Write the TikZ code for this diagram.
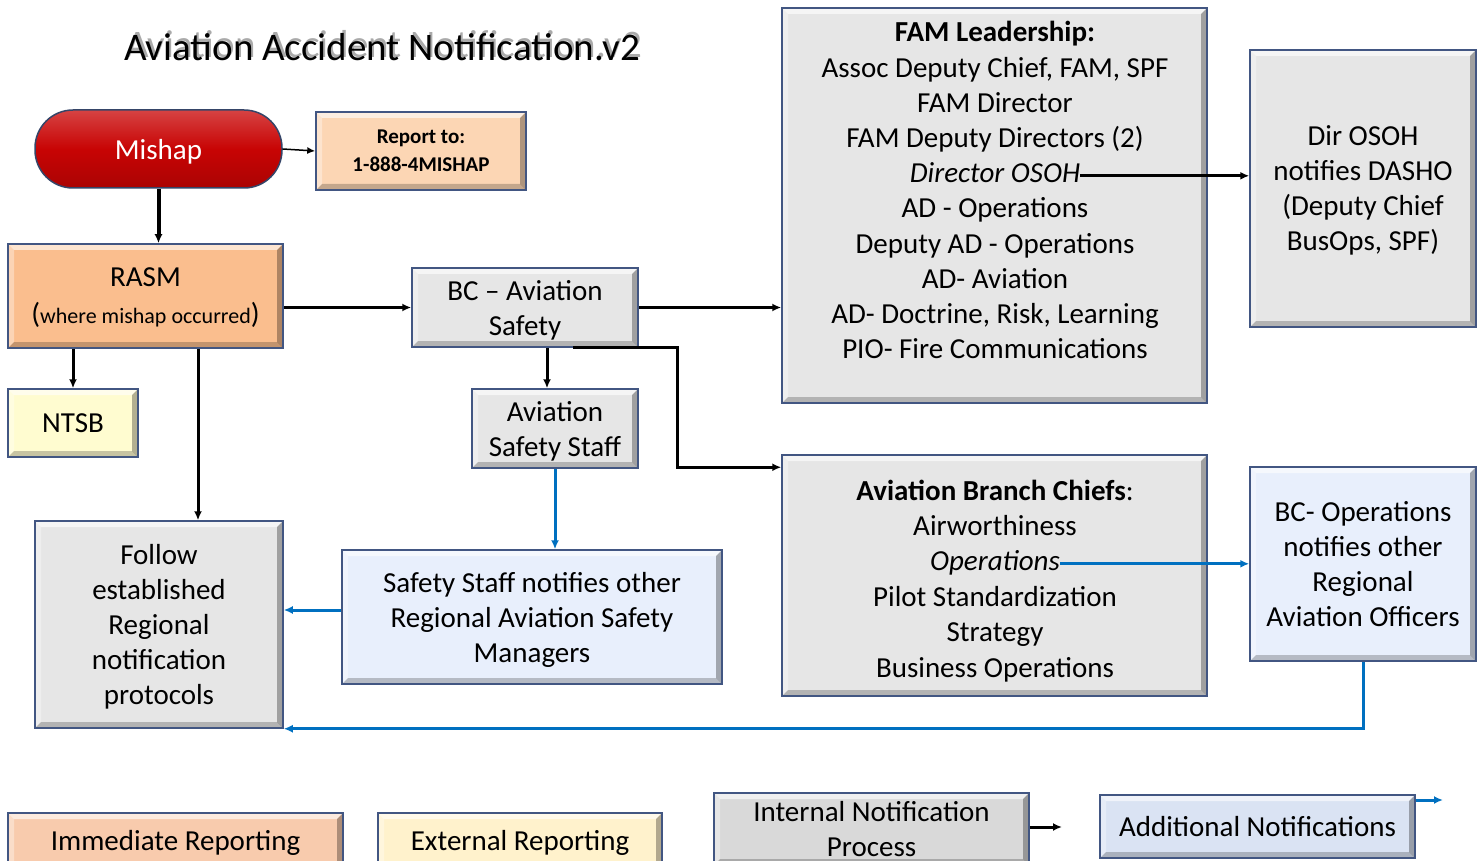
\documentclass[tikz,border=0pt]{standalone}
\usepackage{fontspec}
\setmainfont{Carlito}
\usepackage{tikz}
\usetikzlibrary{arrows.meta}
\usetikzlibrary{calc}
\definecolor{boxedge}{RGB}{66,86,130}
\definecolor{boxgray}{RGB}{230,230,230}
\definecolor{mishapred}{RGB}{200,4,4}
\definecolor{reportfill}{RGB}{252,214,180}
\definecolor{rasmfill}{RGB}{250,190,142}
\definecolor{ntsbfill}{RGB}{255,252,208}
\definecolor{notifyblue}{RGB}{232,239,252}
\definecolor{flowblue}{RGB}{0,112,192}
\definecolor{titleghost}{RGB}{170,170,170}
\definecolor{legorange}{RGB}{248,203,173}
\definecolor{legyellow}{RGB}{255,242,204}
\definecolor{leggray}{RGB}{217,217,217}
\definecolor{legblue}{RGB}{218,227,243}

\begin{document}
\begin{tikzpicture}[
    x=1pt, y=-1pt,
    >={Latex[length=9pt,width=8pt]},
    bevel/.style={path picture={
        \fill[white,opacity=.6] (path picture bounding box.north west) -- (path picture bounding box.north east)
            -- ([shift={(-6pt,-6pt)}]path picture bounding box.north east) -- ([shift={(6pt,-6pt)}]path picture bounding box.north west) -- cycle;
        \fill[white,opacity=.35] (path picture bounding box.north west) -- (path picture bounding box.south west)
            -- ([shift={(6pt,6pt)}]path picture bounding box.south west) -- ([shift={(6pt,-6pt)}]path picture bounding box.north west) -- cycle;
        \fill[black,opacity=.22] (path picture bounding box.south west) -- (path picture bounding box.south east)
            -- ([shift={(-6pt,6pt)}]path picture bounding box.south east) -- ([shift={(6pt,6pt)}]path picture bounding box.south west) -- cycle;
        \fill[black,opacity=.3] (path picture bounding box.south east) -- (path picture bounding box.north east)
            -- ([shift={(-6pt,-6pt)}]path picture bounding box.north east) -- ([shift={(-6pt,6pt)}]path picture bounding box.south east) -- cycle;
    }},
    plainbox/.style={draw=boxedge, line width=1.5pt, inner sep=0pt, align=center, text depth=0pt,
        font=\fontsize{29}{35}\selectfont},
    box/.style={plainbox, bevel},
    graybox/.style={box, fill=boxgray},
    bluebox/.style={box, fill=notifyblue},
    linetxt/.style={inner sep=0pt, text height=20pt, text depth=6pt,
        font=\fontsize{29}{35}\selectfont},
    titletxt/.style={inner sep=0pt, font=\fontsize{39}{45}\selectfont},
    conn/.style={->, line width=3pt},
    thin conn/.style={->, line width=1.5pt, >={Latex[length=8pt,width=7pt]}},
    blue conn/.style={->, line width=3pt, color=flowblue}
    ]

    \useasboundingbox (0,0) rectangle (1484,861);
    \clip (0,0) rectangle (1484,861);

    % title
    \node[titletxt, text=titleghost] (titleshadow) at (384,44) {Aviation Accident Notification.v2};
    \node[titletxt] (title) at (382,47) {Aviation Accident Notification.v2};

    % reporting chain
    \node[plainbox, draw=boxedge!80!black, top color=mishapred!75!white, bottom color=mishapred!85!black,
        middle color=mishapred, text=white, rounded corners=38pt,
        minimum width=247, minimum height=78] (mishap) at (158.5,149) {Mishap};
    \node[box, fill=reportfill, font=\fontsize{21}{28}\selectfont\bfseries,
        minimum width=210, minimum height=78] (report) at (421,151) {Report to:\\1-888-4MISHAP};
    \node[box, fill=rasmfill, minimum width=275, minimum height=104] (rasm) at (145.5,296)
        {RASM\\[2pt]({\fontsize{22}{35}\selectfont where mishap occurred})};
    \node[box, fill=ntsbfill, minimum width=130, minimum height=68] (ntsb) at (73,423) {NTSB};
    \node[graybox, minimum width=248, minimum height=207] (follow) at (159,624.5)
        {Follow\\established\\Regional\\notification\\protocols};
    \node[graybox, minimum width=226, minimum height=79] (bcav) at (525,307.5) {BC -- Aviation\\Safety};
    \node[graybox, minimum width=166, minimum height=79] (staff) at (555,428.5) {Aviation\\Safety Staff};
    \node[bluebox, minimum width=380, minimum height=134] (notify) at (532,617)
        {Safety Staff notifies other\\Regional Aviation Safety\\Managers};

    % leadership
    \node[graybox, minimum width=425, minimum height=395] (fam) at (994.5,205.5) {};
    \foreach \txt [count=\i] in {{\textbf{FAM Leadership:}}, {Assoc Deputy Chief, FAM, SPF}, {FAM Director},
        {FAM Deputy Directors (2)}, {\textit{Director OSOH}}, {AD - Operations}, {Deputy AD - Operations},
        {AD- Aviation}, {AD- Doctrine, Risk, Learning}, {PIO- Fire Communications}}
        \node[linetxt] (fam\i) at (995, {35+35.2*(\i-1)}) {\txt};
    \node[graybox, minimum width=226, minimum height=277] (osoh) at (1363,188.5)
        {Dir OSOH\\notifies DASHO\\(Deputy Chief\\BusOps, SPF)};

    % branch chiefs
    \node[graybox, minimum width=425, minimum height=241] (branch) at (994.5,575.5) {};
    \foreach \txt [count=\i] in {{\textbf{Aviation Branch Chiefs}:}, {Airworthiness}, {\textit{Operations}},
        {Pilot Standardization}, {Strategy}, {Business Operations}}
        \node[linetxt] (br\i) at (995, {493+35.4*(\i-1)}) {\txt};
    \node[bluebox, minimum width=226, minimum height=194] (bcops) at (1363,564)
        {BC- Operations\\notifies other\\Regional\\Aviation Officers};

    % legend
    \node[box, fill=legorange, minimum width=335, minimum height=54] (immediate) at (175.5,840) {Immediate Reporting};
    \node[box, fill=legyellow, minimum width=284, minimum height=54] (external) at (520,840) {External Reporting};
    \node[box, fill=leggray, minimum width=315, minimum height=72] (internal) at (871.5,829) {Internal Notification\\Process};
    \node[box, fill=legblue, minimum width=315, minimum height=63] (additional) at (1257.5,826.5) {Additional Notifications};

    % connectors
    \coordinate (fin) at ([xshift=39pt]follow.north);
    \coordinate (sin) at ([xshift=-8pt]staff.north);
    \coordinate (bcout) at ([xshift=48pt]bcav.south);
    \coordinate (brin) at ([yshift=-13pt]branch.north west);
    \draw[conn, line width=4pt] (mishap.south) -- (mishap.south |- rasm.north);
    \draw[thin conn] (mishap.east) -- (report.west);
    \draw[conn] (rasm.east |- bcav.west) -- (bcav.west);
    \draw[conn] (rasm.south -| ntsb.north) -- (ntsb.north);
    \draw[conn] (rasm.south -| fin) -- (fin);
    \draw[conn] (bcav.east) -- (bcav.east -| fam.west);
    \draw[conn] (bcav.south -| sin) -- (sin);
    \draw[conn] (bcout) -| ($(bcout)!0.5!(brin)$) |- (brin);
    \draw[conn] (fam5.east) -- (fam5.east -| osoh.west);
    \draw[blue conn] (staff.south) -- (staff.south |- notify.north);
    \draw[blue conn] ([yshift=7pt]notify.west) -- ([yshift=7pt]notify.west -| follow.east);
    \draw[blue conn] (br3.east) -- (br3.east -| bcops.west);
    \draw[blue conn] (bcops.south) |- (follow.south east);

    % legend arrows
    \coordinate (legend arrow) at (1062,827);
    \coordinate (addl arrow) at (1443,800);
    \draw[conn] (internal.east |- legend arrow) -- (legend arrow);
    \draw[blue conn] (additional.east |- addl arrow) -- (addl arrow);
\end{tikzpicture}
\end{document}
